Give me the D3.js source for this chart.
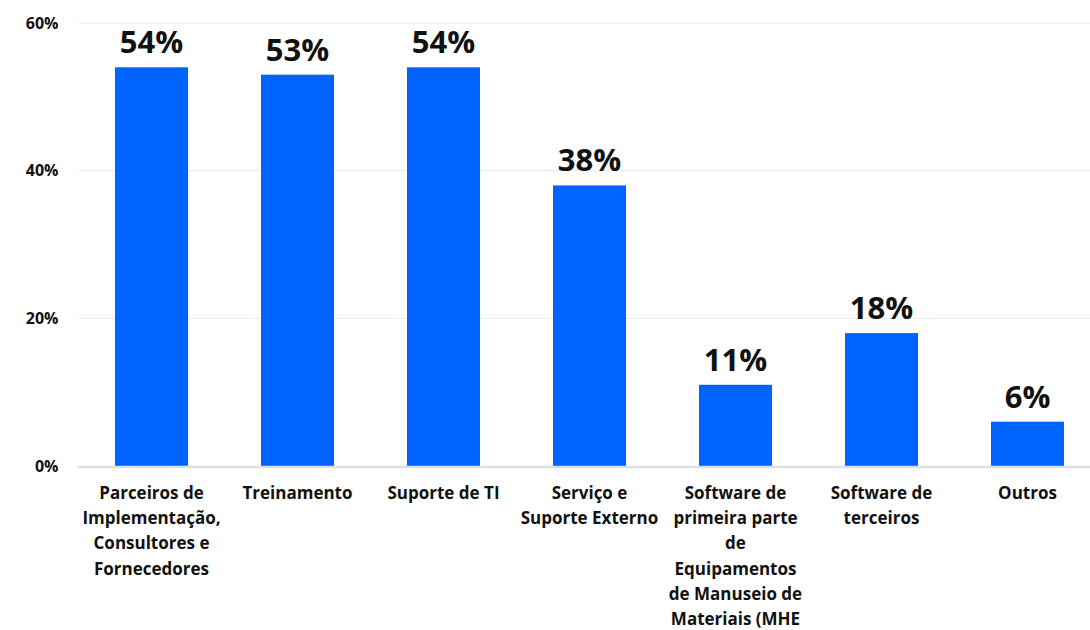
<!DOCTYPE html>
<html>
<head>
<meta charset="utf-8">
<script src="https://cdn.jsdelivr.net/npm/d3@7"></script>
<style>
  html, body { margin: 0; padding: 0; background: #ffffff; }
  svg { display: block; font-family: "Open Sans", "Noto Sans", sans-serif; }
</style>
</head>
<body>
<svg id="chart" width="1090" height="630"></svg>
<script>
// Categories, each split into the lines shown under its bar
const categories = [
  "Parceiros de Implementação, Consultores e Fornecedores",
  "Treinamento",
  "Suporte de TI",
  "Serviço e Suporte Externo",
  "Software de primeira parte de Equipamentos de Manuseio de Materiais (MHE",
  "Software de terceiros",
  "Outros"
];
const categoryLines = [
  ["Parceiros de", "Implementação,", "Consultores e", "Fornecedores"],
  ["Treinamento"],
  ["Suporte de TI"],
  ["Serviço e", "Suporte Externo"],
  ["Software de", "primeira parte", "de", "Equipamentos", "de Manuseio de", "Materiais (MHE"],
  ["Software de", "terceiros"],
  ["Outros"]
];
const values = [54, 53, 54, 38, 11, 18, 6];
const yTicks = [0, 20, 40, 60];

const svg = d3.select("#chart");
const margin = { left: 78.5, right: -10.5, top: 23, bottom: 164 };
const W = 1090, H = 630;

const x = d3.scaleBand()
  .domain(categories)
  .range([margin.left, W - margin.right])
  .paddingInner(0.5)
  .paddingOuter(0.25);

const y = d3.scaleLinear()
  .domain([0, 60])
  .range([H - margin.bottom, margin.top]);

// Horizontal gridlines
svg.append("g")
  .selectAll("line")
  .data(yTicks.filter(d => d > 0))
  .join("line")
  .attr("x1", margin.left)
  .attr("x2", W)
  .attr("y1", d => y(d))
  .attr("y2", d => y(d))
  .attr("stroke", "#e6e9ee")
  .attr("stroke-width", 1);

// Y-axis tick labels
const yAxis = d3.axisLeft(y)
  .tickValues(yTicks)
  .tickFormat(d => d + "%")
  .tickSize(0)
  .tickPadding(20);
const gy = svg.append("g")
  .attr("transform", `translate(${margin.left},0)`)
  .call(yAxis);
gy.select(".domain").remove();
gy.selectAll("text")
  .attr("font-family", "'Open Sans', sans-serif")
  .attr("font-size", 16)
  .attr("font-weight", 700)
  .attr("fill", "#111111");

// Bars
svg.append("g")
  .selectAll("rect")
  .data(values)
  .join("rect")
  .attr("x", (d, i) => x(categories[i]))
  .attr("y", d => y(d))
  .attr("width", x.bandwidth())
  .attr("height", d => y(0) - y(d))
  .attr("fill", "#0062ff");

// Baseline
svg.append("line")
  .attr("x1", margin.left)
  .attr("x2", W)
  .attr("y1", y(0) + 1)
  .attr("y2", y(0) + 1)
  .attr("stroke", "#dcdfe4")
  .attr("stroke-width", 2.5);

// Value labels
svg.append("g")
  .selectAll("text")
  .data(values)
  .join("text")
  .attr("x", (d, i) => x(categories[i]) + x.bandwidth() / 2)
  .attr("y", d => y(d) - 14)
  .attr("text-anchor", "middle")
  .attr("font-size", 31)
  .attr("font-weight", 700)
  .attr("fill", "#111111")
  .text(d => d + "%");

// Category labels
const gx = svg.append("g");
categoryLines.forEach((lines, i) => {
  const t = gx.append("text")
    .attr("x", x(categories[i]) + x.bandwidth() / 2)
    .attr("y", y(0) + 33)
    .attr("text-anchor", "middle")
    .attr("font-size", 17)
    .attr("font-weight", 700)
    .attr("fill", "#111111");
  lines.forEach((ln, j) => {
    t.append("tspan")
      .attr("x", x(categories[i]) + x.bandwidth() / 2)
      .attr("dy", j === 0 ? 0 : 25.2)
      .text(ln);
  });
});
</script>
</body>
</html>
